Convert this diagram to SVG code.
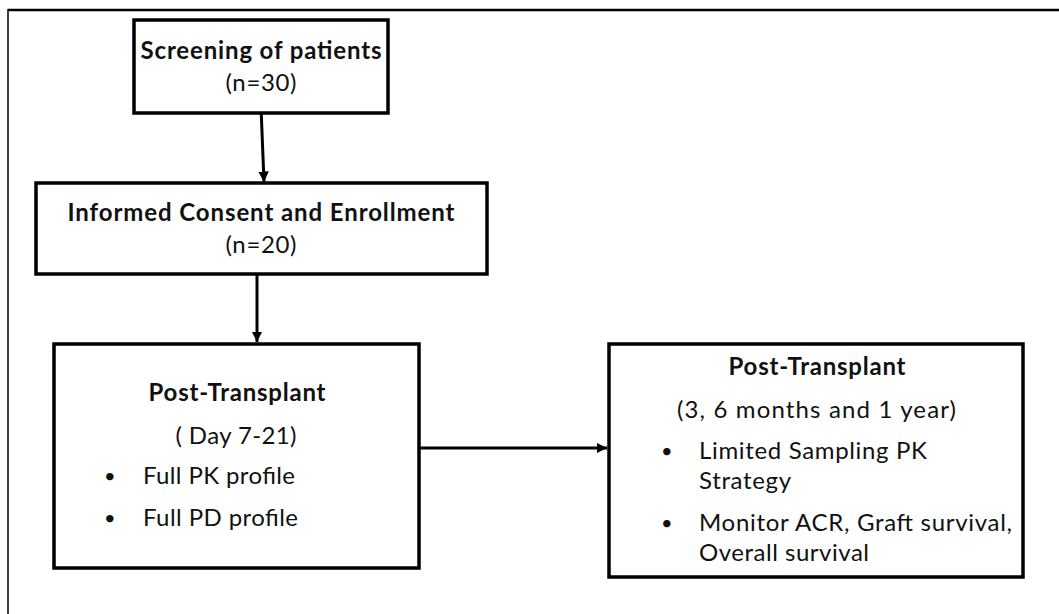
<svg xmlns="http://www.w3.org/2000/svg" width="1059" height="614" viewBox="0 0 1059 614">
<style>
text{font-family:Lato,"Liberation Sans",sans-serif;font-size:24px;fill:#111;}
.b{font-weight:bold;}
.c{text-anchor:middle;}
.d{font-size:20px;}
.box{fill:#fff;stroke:#000;stroke-width:3.5;}
.conn{stroke:#000;stroke-width:3;fill:none;}
</style>
<defs>
<marker id="ah" viewBox="0 0 10 10" refX="10" refY="5" markerWidth="3.5" markerHeight="3.5" orient="auto" markerUnits="strokeWidth">
<path d="M0,0 L10,5 L0,10 z" fill="#000"/>
</marker>
</defs>
<rect width="1059" height="614" fill="#fff"/>
<g id="frame">
<line x1="8" y1="10" x2="1059" y2="10" stroke="#000" stroke-width="2.5"/>
<line x1="8" y1="9" x2="8" y2="614" stroke="#000" stroke-width="1.5"/>
</g>
<g id="connectors">
<line class="conn" x1="261" y1="107" x2="264" y2="182" marker-end="url(#ah)"/>
<line class="conn" x1="257" y1="274" x2="257" y2="342" marker-end="url(#ah)"/>
<line class="conn" x1="419" y1="448" x2="607" y2="448" marker-end="url(#ah)"/>
</g>
<g id="screening">
<rect class="box" x="134" y="20" width="254" height="93"/>
<text class="b c" x="261" y="59" textLength="241">Screening of patients</text>
<text class="c" x="261" y="91" textLength="71">(n=30)</text>
</g>
<g id="consent">
<rect class="box" x="36" y="183" width="451" height="91"/>
<text class="b c" x="261" y="221" textLength="387">Informed Consent and Enrollment</text>
<text class="c" x="261" y="253" textLength="71">(n=20)</text>
</g>
<g id="post1">
<rect class="box" x="54" y="344" width="365" height="224"/>
<text class="b c" x="237" y="401" textLength="177">Post-Transplant</text>
<text class="c" x="236" y="444" textLength="121">( Day 7-21)</text>
<text class="d" x="104" y="483">•</text>
<text x="143" y="484" textLength="152">Full PK profile</text>
<text class="d" x="104" y="525">•</text>
<text x="143" y="526" textLength="155">Full PD profile</text>
</g>
<g id="post2">
<rect class="box" x="609" y="344" width="414" height="233"/>
<text class="b c" x="817" y="375" textLength="177">Post-Transplant</text>
<text x="677" y="418" textLength="279">(3, 6 months  and 1 year)</text>
<text class="d" x="661" y="458">•</text>
<text x="699" y="459" textLength="228">Limited Sampling PK</text>
<text x="699" y="489" textLength="92">Strategy</text>
<text class="d" x="661" y="530">•</text>
<text x="699" y="531" textLength="313">Monitor ACR, Graft survival,</text>
<text x="699" y="561" textLength="170">Overall survival</text>
</g>
</svg>
